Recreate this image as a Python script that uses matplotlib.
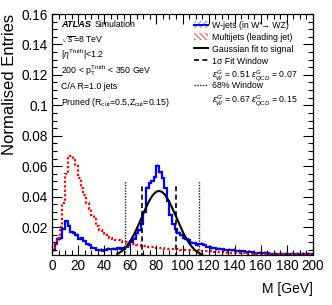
import numpy as np
import matplotlib
matplotlib.use("Agg")
from matplotlib import pyplot as plt
from matplotlib.patches import Rectangle
from matplotlib.lines import Line2D

plt.rcParams['font.family'] = ['Liberation Sans', 'DejaVu Sans']
plt.rcParams['mathtext.fontset'] = 'custom'
plt.rcParams['mathtext.rm'] = 'Liberation Sans'
plt.rcParams['mathtext.it'] = 'Liberation Sans:italic'
plt.rcParams['mathtext.bf'] = 'Liberation Sans:bold'
plt.rcParams['hatch.linewidth'] = 0.8

# binning: 2 GeV bins from 0 to 200 GeV
bin_edges = np.arange(0, 202, 2)

# W-jets (signal), normalised entries per bin
wjets = [0.005, 0.009, 0.012, 0.013, 0.019, 0.024, 0.021, 0.017, 0.016, 0.015,
         0.012, 0.013, 0.011, 0.009, 0.008, 0.0065, 0.006, 0.0052, 0.0048, 0.0046,
         0.0048, 0.0055, 0.0055, 0.0055, 0.0058, 0.006, 0.0055, 0.006, 0.007, 0.008,
         0.010, 0.012, 0.016, 0.018, 0.022, 0.030, 0.046, 0.049, 0.050, 0.053,
         0.060, 0.056, 0.052, 0.046, 0.037, 0.028, 0.022, 0.019, 0.016, 0.015,
         0.013, 0.0125, 0.0112, 0.0098, 0.0095, 0.0083, 0.0088, 0.0092, 0.0085, 0.0072,
         0.0068, 0.0062, 0.0060, 0.0058, 0.0057, 0.0055, 0.0052, 0.0050, 0.0050, 0.0048,
         0.0046, 0.0044, 0.0042, 0.0040, 0.0038, 0.0036, 0.0035, 0.0033, 0.0031, 0.0030,
         0.0029, 0.0028, 0.0027, 0.0026, 0.0025, 0.0025, 0.0024, 0.0024, 0.0024, 0.0023,
         0.0023, 0.0023, 0.0023, 0.0023, 0.0023, 0.0023, 0.0023, 0.0023, 0.0023, 0.0023]

# multijets (background), normalised entries per bin
multijets = [0.005, 0.009, 0.013, 0.020, 0.036, 0.055, 0.066, 0.067, 0.064, 0.060,
             0.052, 0.046, 0.041, 0.036, 0.032, 0.028, 0.025, 0.021, 0.018, 0.016,
             0.0148, 0.0138, 0.0128, 0.0122, 0.0118, 0.0112, 0.0108, 0.0105, 0.0102, 0.0098,
             0.0090, 0.0087, 0.0084, 0.0080, 0.0076, 0.0073, 0.0071, 0.0069, 0.0067, 0.0065,
             0.0063, 0.0061, 0.0060, 0.0058, 0.0057, 0.0056, 0.0055, 0.0054, 0.0053, 0.0052,
             0.0051, 0.0050, 0.0050, 0.0049, 0.0048, 0.0047, 0.0046, 0.0045, 0.0044, 0.0042,
             0.0041, 0.0040, 0.0038, 0.0037, 0.0036, 0.0035, 0.0034, 0.0033, 0.0032, 0.0031,
             0.0030, 0.0029, 0.0028, 0.0027, 0.0026, 0.0025, 0.0024, 0.0024, 0.0023, 0.0023,
             0.0022, 0.0022, 0.0022, 0.0021, 0.0021, 0.0021, 0.0021, 0.0021, 0.0021, 0.0021,
             0.0021, 0.0021, 0.0021, 0.0021, 0.0021, 0.0021, 0.0021, 0.0021, 0.0021, 0.0021]

# Gaussian fit to signal
fit_mean = 82.0
fit_sigma = 13.2
fit_amp = 0.0437
fit_range = (50.0, 115.0)

# mass windows
window_1sigma = [69.3, 94.8]
window_1sigma_height = 0.049
window_68 = [56.0, 112.5]
window_68_height = 0.050

fig = plt.figure(figsize=(3.32, 3.05), dpi=100)
ax = fig.add_axes([52 / 332, 1 - 254.5 / 305, 261 / 332, 240.5 / 305])

# signal with hatched uncertainty band
w = np.array(wjets)
band = 0.0012
ax.fill_between(bin_edges, np.append(w - band, w[-1] - band), np.append(w + band, w[-1] + band),
                step='post', facecolor='none', edgecolor='#8c8cff', hatch='//////', linewidth=0)
ax.stairs(wjets, bin_edges, baseline=None, color='#0000ff', linewidth=1.6)

# background
ax.stairs(multijets, bin_edges, baseline=None, color='#ff0000', linestyle=(0, (1, 1)), linewidth=1.6)

# fit
xf = np.linspace(fit_range[0], fit_range[1], 300)
ax.plot(xf, fit_amp * np.exp(-0.5 * ((xf - fit_mean) / fit_sigma) ** 2), color='black', linewidth=1.5)

for xv in window_1sigma:
    ax.plot([xv, xv], [0, window_1sigma_height], color='black', linestyle=(0, (3, 2)), linewidth=1.2)
for xv in window_68:
    ax.plot([xv, xv], [0, window_68_height], color='#222222', linestyle=(0, (1, 1)), linewidth=1.0)

ax.set_xlim(0, 200)
ax.set_ylim(0.002, 0.16)
ax.set_xticks(np.arange(0, 201, 20))
ax.set_xticks(np.arange(0, 201, 5), minor=True)
ax.set_yticks([0.02, 0.04, 0.06, 0.08, 0.1, 0.12, 0.14, 0.16])
ax.set_yticklabels(['0.02', '0.04', '0.06', '0.08', '0.1', '0.12', '0.14', '0.16'])
ax.set_yticks(np.arange(0.005, 0.1601, 0.005), minor=True)
ax.tick_params(which='both', direction='in', top=True, right=True, labelsize=9.8, width=0.8)
ax.tick_params(which='major', length=7, pad=3)
ax.tick_params(which='minor', length=3.5)
for sp in ax.spines.values():
    sp.set_linewidth(0.9)

ax.set_xlabel('M [GeV]', loc='right', fontsize=10, labelpad=7)
ax.set_ylabel('Normalised Entries', loc='top', fontsize=12, labelpad=3)


def ax_xy(px, py):
    return (px - 52) / 261, (254.5 - py) / 240.5


fs = 6.3
# left annotations
x0, _ = ax_xy(61, 0)
ax.text(x0, ax_xy(0, 27)[1], 'ATLAS', transform=ax.transAxes, fontsize=fs + 0.3,
        fontweight='bold', fontstyle='italic', va='baseline')
ax.text(ax_xy(95, 0)[0], ax_xy(0, 27)[1], 'Simulation', transform=ax.transAxes, fontsize=fs, va='baseline')
left_lines = [r'$\sqrt{s}$=8 TeV',
              r'|$\eta^{\mathrm{Truth}}$|<1.2',
              r'200 < p$_{\mathrm{T}}^{\mathrm{Truth}}$ < 350 GeV',
              'C/A R=1.0 jets',
              r'Pruned (R$_{\mathrm{cut}}$=0.5,Z$_{\mathrm{cut}}$=0.15)']
for i, s in enumerate(left_lines):
    ax.text(x0, ax_xy(0, 43 + 15.4 * i)[1], s, transform=ax.transAxes, fontsize=fs, va='baseline')

# legend, drawn by hand
row_y = [24.5, 36, 48, 60, 72.5, 85, 97.5]
hx0, _ = ax_xy(194, 0)
hx1, _ = ax_xy(208, 0)
tx, _ = ax_xy(212, 0)
hh = 7 / 240.5


def row(i):
    return ax_xy(0, row_y[i])[1]


ax.add_patch(Rectangle((hx0, row(0) - hh / 2), hx1 - hx0, hh, transform=ax.transAxes,
                       facecolor='none', edgecolor='#8c8cff', hatch='//////', linewidth=0))
ax.add_line(Line2D([hx0, hx1], [row(0), row(0)], transform=ax.transAxes, color='#0000ff', linewidth=1.4))
ax.add_patch(Rectangle((hx0, row(1) - hh / 2), hx1 - hx0, hh, transform=ax.transAxes,
                       facecolor='none', edgecolor='#ff5050', hatch='\\\\\\\\\\\\', linewidth=0))
ax.add_line(Line2D([hx0, hx1], [row(2), row(2)], transform=ax.transAxes, color='black', linewidth=1.4))
ax.add_line(Line2D([hx0, hx1], [row(3), row(3)], transform=ax.transAxes, color='black',
                   linestyle=(0, (3, 2)), linewidth=1.2))
ax.add_line(Line2D([hx0, hx1], [row(5), row(5)], transform=ax.transAxes, color='#222222',
                   linestyle=(0, (1, 1)), linewidth=1.0))

legend_text = ["W-jets (in W'→ WZ)",
               'Multijets (leading jet)',
               'Gaussian fit to signal',
               '1σ Fit Window',
               r'$\epsilon_{W}^{G}$ = 0.51 $\epsilon_{QCD}^{G}$ = 0.07',
               '68% Window',
               r'$\epsilon_{W}^{G}$ = 0.67 $\epsilon_{QCD}^{G}$ = 0.15']
for i, s in enumerate(legend_text):
    ax.text(tx, row(i), s, transform=ax.transAxes, fontsize=fs, va='center_baseline')

fig.savefig('out.png', dpi=100)
